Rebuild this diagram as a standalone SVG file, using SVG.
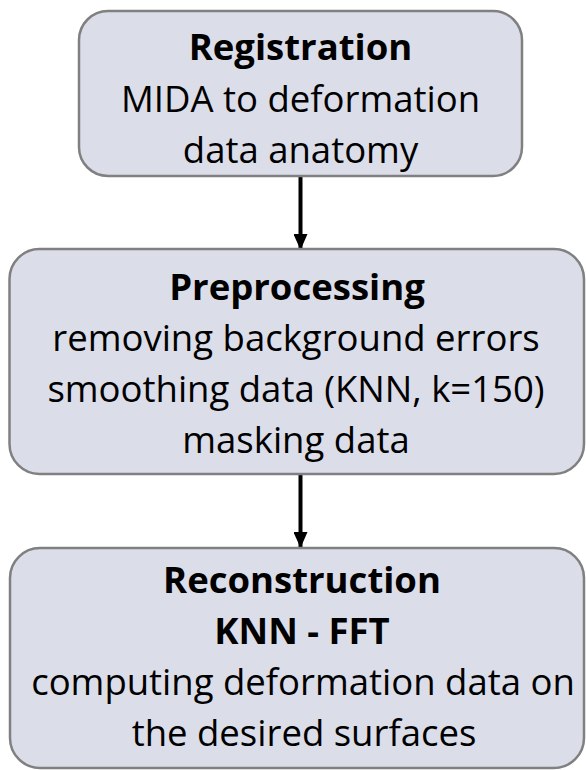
<svg xmlns="http://www.w3.org/2000/svg" width="586" height="770" viewBox="0 0 586 770">
  <style>
    .box { fill: #dbdde9; stroke: #808080; stroke-width: 2.5; }
    .t { font-family: "Open Sans", "Noto Sans", sans-serif; font-size: 36.5px; fill: #000; text-anchor: middle; }
    .b { font-weight: bold; }
    .conn line { stroke: #000; stroke-width: 4; }
  </style>
  <defs>
    <marker id="arrow" viewBox="0 0 16 14" refX="16" refY="7" markerWidth="16" markerHeight="14" markerUnits="userSpaceOnUse" orient="auto">
      <path d="M0,0 L16,7 L0,14 Z" fill="#000"/>
    </marker>
  </defs>

  <g id="connectors" class="conn">
    <line x1="300.5" y1="176" x2="300.5" y2="250" marker-end="url(#arrow)"/>
    <line x1="300.5" y1="474" x2="300.5" y2="548" marker-end="url(#arrow)"/>
  </g>

  <g id="registration">
    <rect class="box" x="79" y="11" width="443" height="165" rx="29"/>
    <text class="t b" x="300.5" y="60">Registration</text>
    <text class="t" x="300.5" y="112">MIDA to deformation</text>
    <text class="t" x="300.5" y="163">data anatomy</text>
  </g>

  <g id="preprocessing">
    <rect class="box" x="9.5" y="249" width="574.5" height="225" rx="30"/>
    <text class="t b" x="297" y="300">Preprocessing</text>
    <text class="t" x="296" y="351">removing background errors</text>
    <text class="t" x="296" y="402">smoothing data (KNN, k=150)</text>
    <text class="t" x="296" y="453">masking data</text>
  </g>

  <g id="reconstruction">
    <rect class="box" x="10" y="548" width="574" height="220" rx="30"/>
    <text class="t b" x="302" y="593">Reconstruction</text>
    <text class="t b" x="302" y="644">KNN - FFT</text>
    <text class="t" x="303" y="695">computing deformation data on</text>
    <text class="t" x="304" y="746">the desired surfaces</text>
  </g>
</svg>
